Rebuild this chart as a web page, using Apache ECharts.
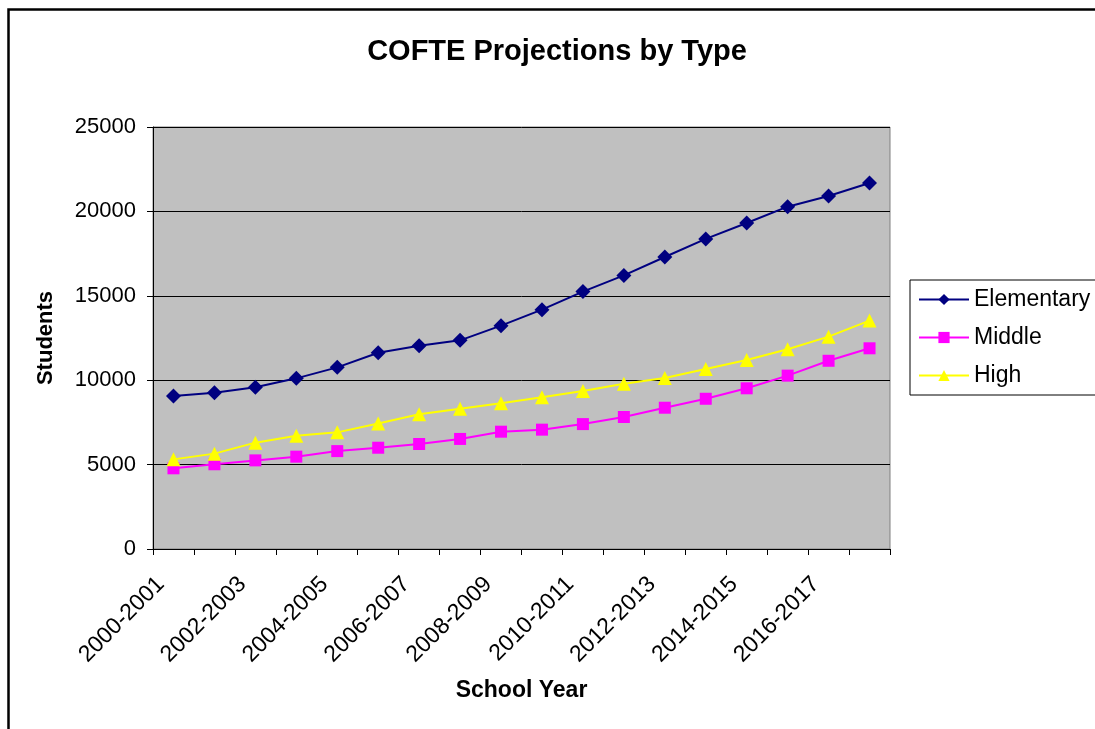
<!DOCTYPE html>
<html>
<head>
<meta charset="utf-8">
<script src="https://cdn.jsdelivr.net/npm/echarts@6/dist/echarts.min.js"></script>
<style>
  html, body { margin: 0; padding: 0; background: #fff; }
  #chart { width: 1095px; height: 729px; }
</style>
</head>
<body>
<div id="chart"></div>
<script>
// school years on the x axis
var years = ['2000-2001','2001-2002','2002-2003','2003-2004','2004-2005','2005-2006',
             '2006-2007','2007-2008','2008-2009','2009-2010','2010-2011','2011-2012',
             '2012-2013','2013-2014','2014-2015','2015-2016','2016-2017','2017-2018'];

// students by type
var elementary = [9060, 9260, 9580, 10110, 10760, 11630, 12040, 12360, 13230,
                  14180, 15250, 16210, 17300, 18370, 19310, 20280, 20910, 21680];
var middle = [4780, 5020, 5250, 5470, 5800, 6000, 6220, 6520, 6950,
              7070, 7400, 7820, 8370, 8900, 9520, 10270, 11150, 11890];
var high = [5310, 5650, 6300, 6710, 6910, 7440, 7980, 8310, 8630,
            8990, 9360, 9790, 10130, 10660, 11200, 11830, 12580, 13530];

var font = 'Liberation Sans, Arial, sans-serif';

var myChart = echarts.init(document.getElementById('chart'));

function lineSeries(name, data, color, symbol, size) {
  return {
    name: name,
    type: 'line',
    data: data,
    symbol: symbol,
    symbolSize: size,
    showAllSymbol: true,
    lineStyle: { color: color, width: 2 },
    itemStyle: { color: color }
  };
}

var option = {
  animation: false,
  title: {
    text: 'COFTE Projections by Type',
    left: 552,
    textAlign: 'center',
    top: 32,
    textStyle: { fontFamily: font, fontSize: 29, fontWeight: 'bold', color: '#000' }
  },
  graphic: [{
    type: 'rect',
    left: 6, top: 7,
    shape: { width: 1200, height: 800 },
    style: { fill: 'none', stroke: '#000', lineWidth: 2.5 },
    silent: true
  }],
  legend: {
    orient: 'vertical',
    left: 910,
    top: 280,
    padding: [8, 20, 8, 8],
    itemGap: 15,
    itemWidth: 50,
    itemHeight: 14,
    borderColor: '#000',
    borderWidth: 1,
    backgroundColor: '#fff',
    textStyle: { fontFamily: font, fontSize: 23, lineHeight: 23, color: '#000' },
    data: ['Elementary', 'Middle', 'High']
  },
  grid: {
    left: 153, right: 205, top: 127, bottom: 180,
    show: true,
    backgroundColor: '#C0C0C0',
    borderColor: '#808080',
    borderWidth: 1
  },
  xAxis: {
    type: 'category',
    data: years,
    boundaryGap: true,
    name: 'School Year',
    nameLocation: 'middle',
    nameGap: 130,
    nameTextStyle: { fontFamily: font, fontSize: 23, fontWeight: 'bold', color: '#000' },
    axisLine: { lineStyle: { color: '#000', width: 1 } },
    axisTick: { show: true, length: 6, interval: 0, lineStyle: { color: '#000' } },
    axisLabel: {
      interval: 1,
      rotate: 45,
      margin: 19,
      padding: [0, 18, 0, 0],
      fontFamily: font, fontSize: 23, color: '#000'
    }
  },
  yAxis: {
    type: 'value',
    min: 0, max: 25000, interval: 5000,
    name: 'Students',
    nameLocation: 'middle',
    nameGap: 96,
    nameTextStyle: { fontFamily: font, fontSize: 22, fontWeight: 'bold', color: '#000' },
    axisLine: { show: true, lineStyle: { color: '#000', width: 1 } },
    axisTick: { show: true, length: 6, lineStyle: { color: '#000' } },
    axisLabel: {
      margin: 17,
      fontFamily: font, fontSize: 22, color: '#000',
      formatter: function (v) { return String(v); }
    },
    splitLine: { lineStyle: { color: '#000', width: 1 } }
  },
  series: [
    lineSeries('Elementary', elementary, '#000080', 'diamond', 15),
    lineSeries('Middle', middle, '#FF00FF', 'rect', 12),
    lineSeries('High', high, '#FFFF00', 'triangle', 14)
  ]
};

myChart.setOption(option);
</script>
</body>
</html>
